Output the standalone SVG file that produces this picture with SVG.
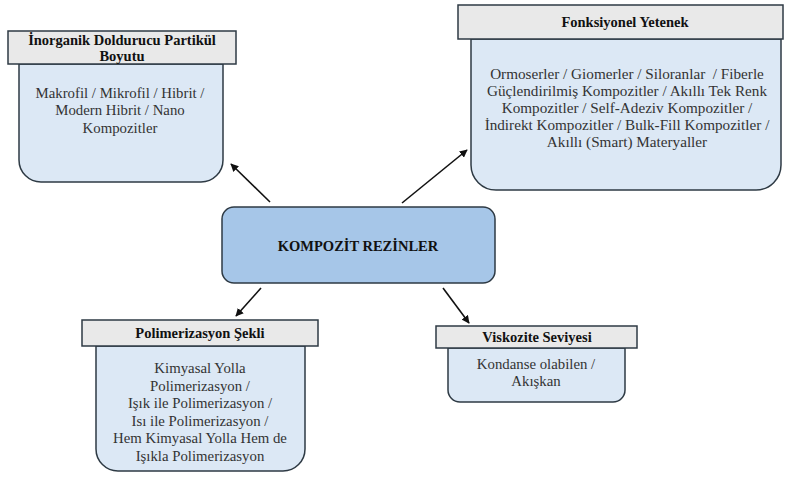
<svg xmlns="http://www.w3.org/2000/svg" width="785" height="477" viewBox="0 0 785 477">
<defs>
<style>
.hdr{fill:#e9e9e9;stroke:#2e3a44;stroke-width:1.5}
.body{fill:#dce8f5;stroke:#2e3a44;stroke-width:1.5}
.ctr{fill:#a6c6e8;stroke:#2e3a44;stroke-width:1.5}
text{font-family:'Liberation Serif','Times New Roman',serif}
.ht{font-weight:bold;font-size:14.5px;fill:#111;text-anchor:middle}
.bt{font-size:14.8px;fill:#333;text-anchor:middle}
.bt2{font-size:15.2px}
.conn{stroke:#111;stroke-width:1.6;fill:none}
</style>
<marker id="ah" viewBox="0 0 10 10" refX="9" refY="5" markerWidth="8" markerHeight="8" orient="auto" markerUnits="userSpaceOnUse">
<path d="M0,0 L10,5 L0,10 z" fill="#111"/>
</marker>
</defs>
<rect width="785" height="477" fill="#fff"/>
<g id="connectors">
<line class="conn" x1="270" y1="202" x2="231" y2="164" marker-end="url(#ah)"/>
<line class="conn" x1="402" y1="203" x2="467" y2="150" marker-end="url(#ah)"/>
<line class="conn" x1="261" y1="288" x2="236" y2="316" marker-end="url(#ah)"/>
<line class="conn" x1="443" y1="288" x2="469" y2="323" marker-end="url(#ah)"/>
</g>
<g id="node-inorganik">
<path class="body" d="M19,64 H223 V160 A22,22 0 0 1 201,182 H41 A22,22 0 0 1 19,160 Z"/>
<rect class="hdr" x="8" y="31" width="228" height="33"/>
<text class="ht" x="122" y="45">İnorganik Doldurucu Partikül</text>
<text class="ht" x="122" y="61">Boyutu</text>
<text class="bt" x="120" y="98">Makrofil / Mikrofil / Hibrit /</text>
<text class="bt" x="120" y="115">Modern Hibrit / Nano</text>
<text class="bt" x="120" y="133">Kompozitler</text>
</g>
<g id="node-fonksiyonel">
<path class="body" d="M471,39 H781 V165 A25,25 0 0 1 756,190 H496 A25,25 0 0 1 471,165 Z"/>
<rect class="hdr" x="458" y="5" width="325" height="34"/>
<text class="ht" x="625" y="27">Fonksiyonel Yetenek</text>
<text class="bt bt2" x="627" y="79">Ormoserler / Giomerler / Siloranlar &#160;/ Fiberle</text>
<text class="bt bt2" x="627" y="96">Güçlendirilmiş Kompozitler / Akıllı Tek Renk</text>
<text class="bt bt2" x="627" y="113">Kompozitler / Self-Adeziv Kompozitler /</text>
<text class="bt bt2" x="627" y="130">İndirekt Kompozitler / Bulk-Fill Kompozitler /</text>
<text class="bt bt2" x="627" y="147">Akıllı (Smart) Materyaller</text>
</g>
<g id="node-center">
<rect class="ctr" x="222" y="207" width="273" height="76" rx="12" ry="12"/>
<text class="ht" x="358" y="251">KOMPOZİT REZİNLER</text>
</g>
<g id="node-polimerizasyon">
<path class="body" d="M96,346 H305 V449 A22,22 0 0 1 283,471 H118 A22,22 0 0 1 96,449 Z"/>
<rect class="hdr" x="82" y="320" width="236" height="26"/>
<text class="ht" x="200" y="338">Polimerizasyon Şekli</text>
<text class="bt" x="200" y="373">Kimyasal Yolla</text>
<text class="bt" x="200" y="391">Polimerizasyon /</text>
<text class="bt" x="200" y="408">Işık ile Polimerizasyon /</text>
<text class="bt" x="200" y="426">Isı ile Polimerizasyon /</text>
<text class="bt" x="200" y="443">Hem Kimyasal Yolla Hem de</text>
<text class="bt" x="200" y="461">Işıkla Polimerizasyon</text>
</g>
<g id="node-viskozite">
<path class="body" d="M448,348 H625 V390 A12,12 0 0 1 613,402 H460 A12,12 0 0 1 448,390 Z"/>
<rect class="hdr" x="436" y="326" width="201" height="22"/>
<text class="ht" x="537" y="342">Viskozite Seviyesi</text>
<text class="bt" x="536" y="369">Kondanse olabilen /</text>
<text class="bt" x="536" y="386">Akışkan</text>
</g>
</svg>
